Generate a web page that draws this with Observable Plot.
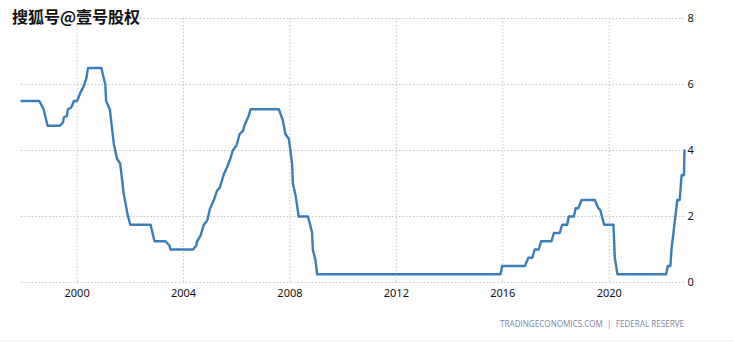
<!DOCTYPE html>
<html>
<head>
<meta charset="utf-8">
<script src="https://cdn.jsdelivr.net/npm/d3@7"></script>
<script src="https://cdn.jsdelivr.net/npm/@observablehq/plot@0.6"></script>
<style>
  html, body { margin: 0; padding: 0; background: #fff; }
  #wrap { position: relative; width: 734px; height: 350px; overflow: hidden; }
  #mark { position: absolute; left: 12px; top: 4px; font-family: "Noto Sans CJK SC", sans-serif; font-weight: bold; font-size: 16px; color: #111;
    text-shadow: -1px 0 #fff, 1px 0 #fff, 0 -1px #fff, 0 1px #fff, 1px 1px #fff, -1px -1px #fff; }
  #caption { position: absolute; right: 50px; top: 318px; font-family: "Open Sans", sans-serif; font-size: 8.1px; color: #7d84a0; }
  #rule { position: absolute; left: 0; right: 0; top: 340px; border-top: 1px solid #eeeeee; }
</style>
</head>
<body>
<div id="wrap">
  <div id="chart"></div>
  <div id="mark">搜狐号@壹号股权</div>
  <div id="caption">TRADINGECONOMICS.COM &nbsp;|&nbsp; FEDERAL RESERVE</div>
  <div id="rule"></div>
</div>
<script>
const years = [
  1997.91, 1998.58, 1998.74, 1998.89, 1999.35, 1999.47, 1999.50, 1999.62, 1999.65, 1999.78,
  1999.88, 2000.00, 2000.12, 2000.25, 2000.35, 2000.41, 2000.91, 2001.06, 2001.09, 2001.23,
  2001.38, 2001.50, 2001.62, 2001.75, 2001.90, 2002.00, 2002.76, 2002.91, 2003.32, 2003.47,
  2003.51, 2004.36, 2004.48, 2004.51, 2004.64, 2004.76, 2004.89, 2004.99, 2005.14, 2005.26,
  2005.36, 2005.51, 2005.64, 2005.76, 2005.85, 2005.99, 2006.11, 2006.24, 2006.29, 2006.45,
  2006.52, 2007.58, 2007.73, 2007.83, 2007.96, 2008.08, 2008.11, 2008.21, 2008.33, 2008.68,
  2008.83, 2008.86, 2008.96, 2009.02, 2015.91, 2015.98, 2016.83, 2016.96, 2017.11, 2017.20,
  2017.35, 2017.44, 2017.83, 2017.92, 2018.14, 2018.23, 2018.42, 2018.48, 2018.67, 2018.74,
  2018.84, 2018.96, 2019.46, 2019.59, 2019.66, 2019.81, 2020.16, 2020.21, 2020.31, 2022.14,
  2022.20, 2022.30, 2022.34, 2022.56, 2022.65, 2022.72, 2022.81, 2022.83
];
const rates = [
  5.5, 5.5, 5.25, 4.75, 4.75, 4.85, 5.0, 5.05, 5.25, 5.3,
  5.5, 5.5, 5.75, 5.95, 6.2, 6.5, 6.5, 6.0, 5.5, 5.25,
  4.2, 3.75, 3.6, 2.7, 2.05, 1.75, 1.75, 1.25, 1.25, 1.12,
  1.0, 1.0, 1.12, 1.25, 1.42, 1.75, 1.88, 2.23, 2.5, 2.78,
  2.87, 3.27, 3.5, 3.75, 4.0, 4.15, 4.5, 4.6, 4.76, 5.05,
  5.25, 5.25, 4.92, 4.5, 4.35, 3.6, 3.0, 2.64, 2.0, 2.0,
  1.52, 1.0, 0.67, 0.25, 0.25, 0.5, 0.5, 0.75, 0.75, 1.0,
  1.0, 1.25, 1.25, 1.5, 1.5, 1.75, 1.75, 2.0, 2.0, 2.25,
  2.25, 2.5, 2.5, 2.25, 2.2, 1.75, 1.75, 0.75, 0.25, 0.25,
  0.5, 0.5, 1.0, 2.5, 2.5, 3.25, 3.25, 4.0
];
const xTicks = [2000, 2004, 2008, 2012, 2016, 2020];
const yTicks = [0, 2, 4, 6, 8];

const data = years.map((y, i) => ({year: y, rate: rates[i]}));

const chart = Plot.plot({
  width: 734,
  height: 305,
  marginLeft: 21,
  marginRight: 50,
  marginTop: 18,
  marginBottom: 23,
  style: {fontFamily: "'Noto Sans', sans-serif", fontSize: "11px", color: "#111", background: "#fff"},
  x: {domain: [years[0], years[years.length - 1]], ticks: xTicks, tickFormat: d => String(d), tickSize: 0, tickPadding: 7, label: null},
  y: {domain: [0, 8], ticks: yTicks, tickSize: 0, tickPadding: 3, label: null, axis: "right"},
  marks: [
    Plot.gridY(yTicks, {stroke: "#c4c4c4", strokeOpacity: 1, strokeDasharray: "1.5,2"}),
    Plot.gridX(xTicks, {stroke: "#c4c4c4", strokeOpacity: 1, strokeDasharray: "1.5,2"}),
    Plot.line(data, {x: "year", y: "rate", stroke: "#3a7dbb", strokeWidth: 2.4, curve: "linear"})
  ]
});
document.getElementById("chart").appendChild(chart);
</script>
</body>
</html>
